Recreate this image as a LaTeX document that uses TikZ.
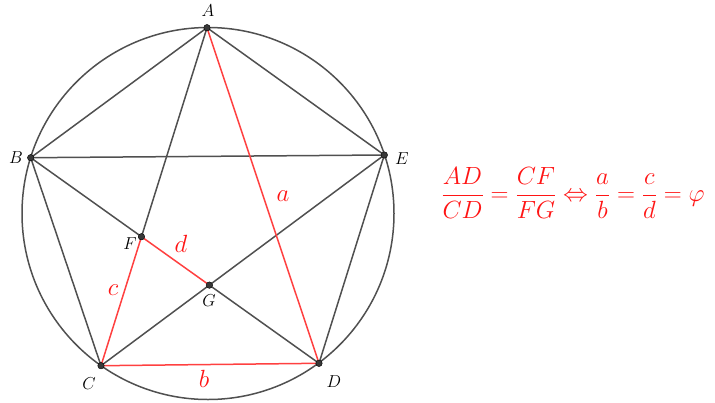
\documentclass[tikz,border=0pt]{standalone}
\usetikzlibrary{calc}
\definecolor{ggray}{RGB}{80,80,80}
\definecolor{gred}{RGB}{255,64,64}
\definecolor{tred}{RGB}{255,20,20}
\begin{document}
\begin{tikzpicture}[x=1pt,y=-1pt,
  edge/.style={draw=ggray,line width=1.5pt,line cap=round},
  redge/.style={draw=gred,line width=1.5pt,line cap=round},
  dot/.style={circle,fill=ggray!70!black,draw=black,line width=0.4pt,inner sep=0pt,minimum size=6.5pt},
  plabel/.style={font=\fontsize{16.5}{18}\selectfont,text=black},
  slabel/.style={font=\fontsize{24}{28}\selectfont,text=tred}]
\useasboundingbox (0,0) rectangle (715,402);
\coordinate (O) at (208,213.5);
\coordinate (A) at (207,27.7);
\coordinate (B) at (30.7,157.7);
\coordinate (E) at (384.3,155);
\coordinate (C) at (101,365.7);
\coordinate (D) at (319,363.3);
\coordinate (F) at (intersection of A--C and B--D);
\coordinate (G) at (intersection of C--E and B--D);
\draw[edge] (O) circle[radius=186];
\draw[edge] (A) -- (B);
\draw[edge] (A) -- (E);
\draw[edge] (B) -- (E);
\draw[edge] (B) -- (C);
\draw[edge] (D) -- (E);
\draw[edge] (C) -- (E);
\draw[edge] (A) -- (F);
\draw[edge] (B) -- (F);
\draw[edge] (G) -- (D);
\draw[redge] (A) -- (D);
\draw[redge] (C) -- (D);
\draw[redge] (C) -- (F);
\draw[redge] (F) -- (G);
\foreach \p in {A,B,C,D,E,F,G} \node[dot] (d\p) at (\p) {};
\node[plabel] (lA) at (208,11) {$A$};
\node[plabel] (lB) at (16,158) {$B$};
\node[plabel] (lE) at (402,159) {$E$};
\node[plabel] (lC) at (89,384) {$C$};
\node[plabel] (lD) at (334,382) {$D$};
\node[plabel] (lF) at (130,244) {$F$};
\node[plabel] (lG) at (209,301) {$G$};
\node[slabel] (la) at (283,196) {$a$};
\node[slabel] (lb) at (204,379) {$b$};
\node[slabel] (lc) at (113,290) {$c$};
\node[slabel] (ld) at (181,244) {$d$};
\node[font=\fontsize{25.5}{30}\selectfont,text=tred,inner sep=0pt] (eq) at (573,193)
  {$\displaystyle\frac{AD}{CD}=\frac{CF}{FG}\Leftrightarrow\frac{a}{b}=\frac{c}{d}=\varphi$};
\end{tikzpicture}
\end{document}
